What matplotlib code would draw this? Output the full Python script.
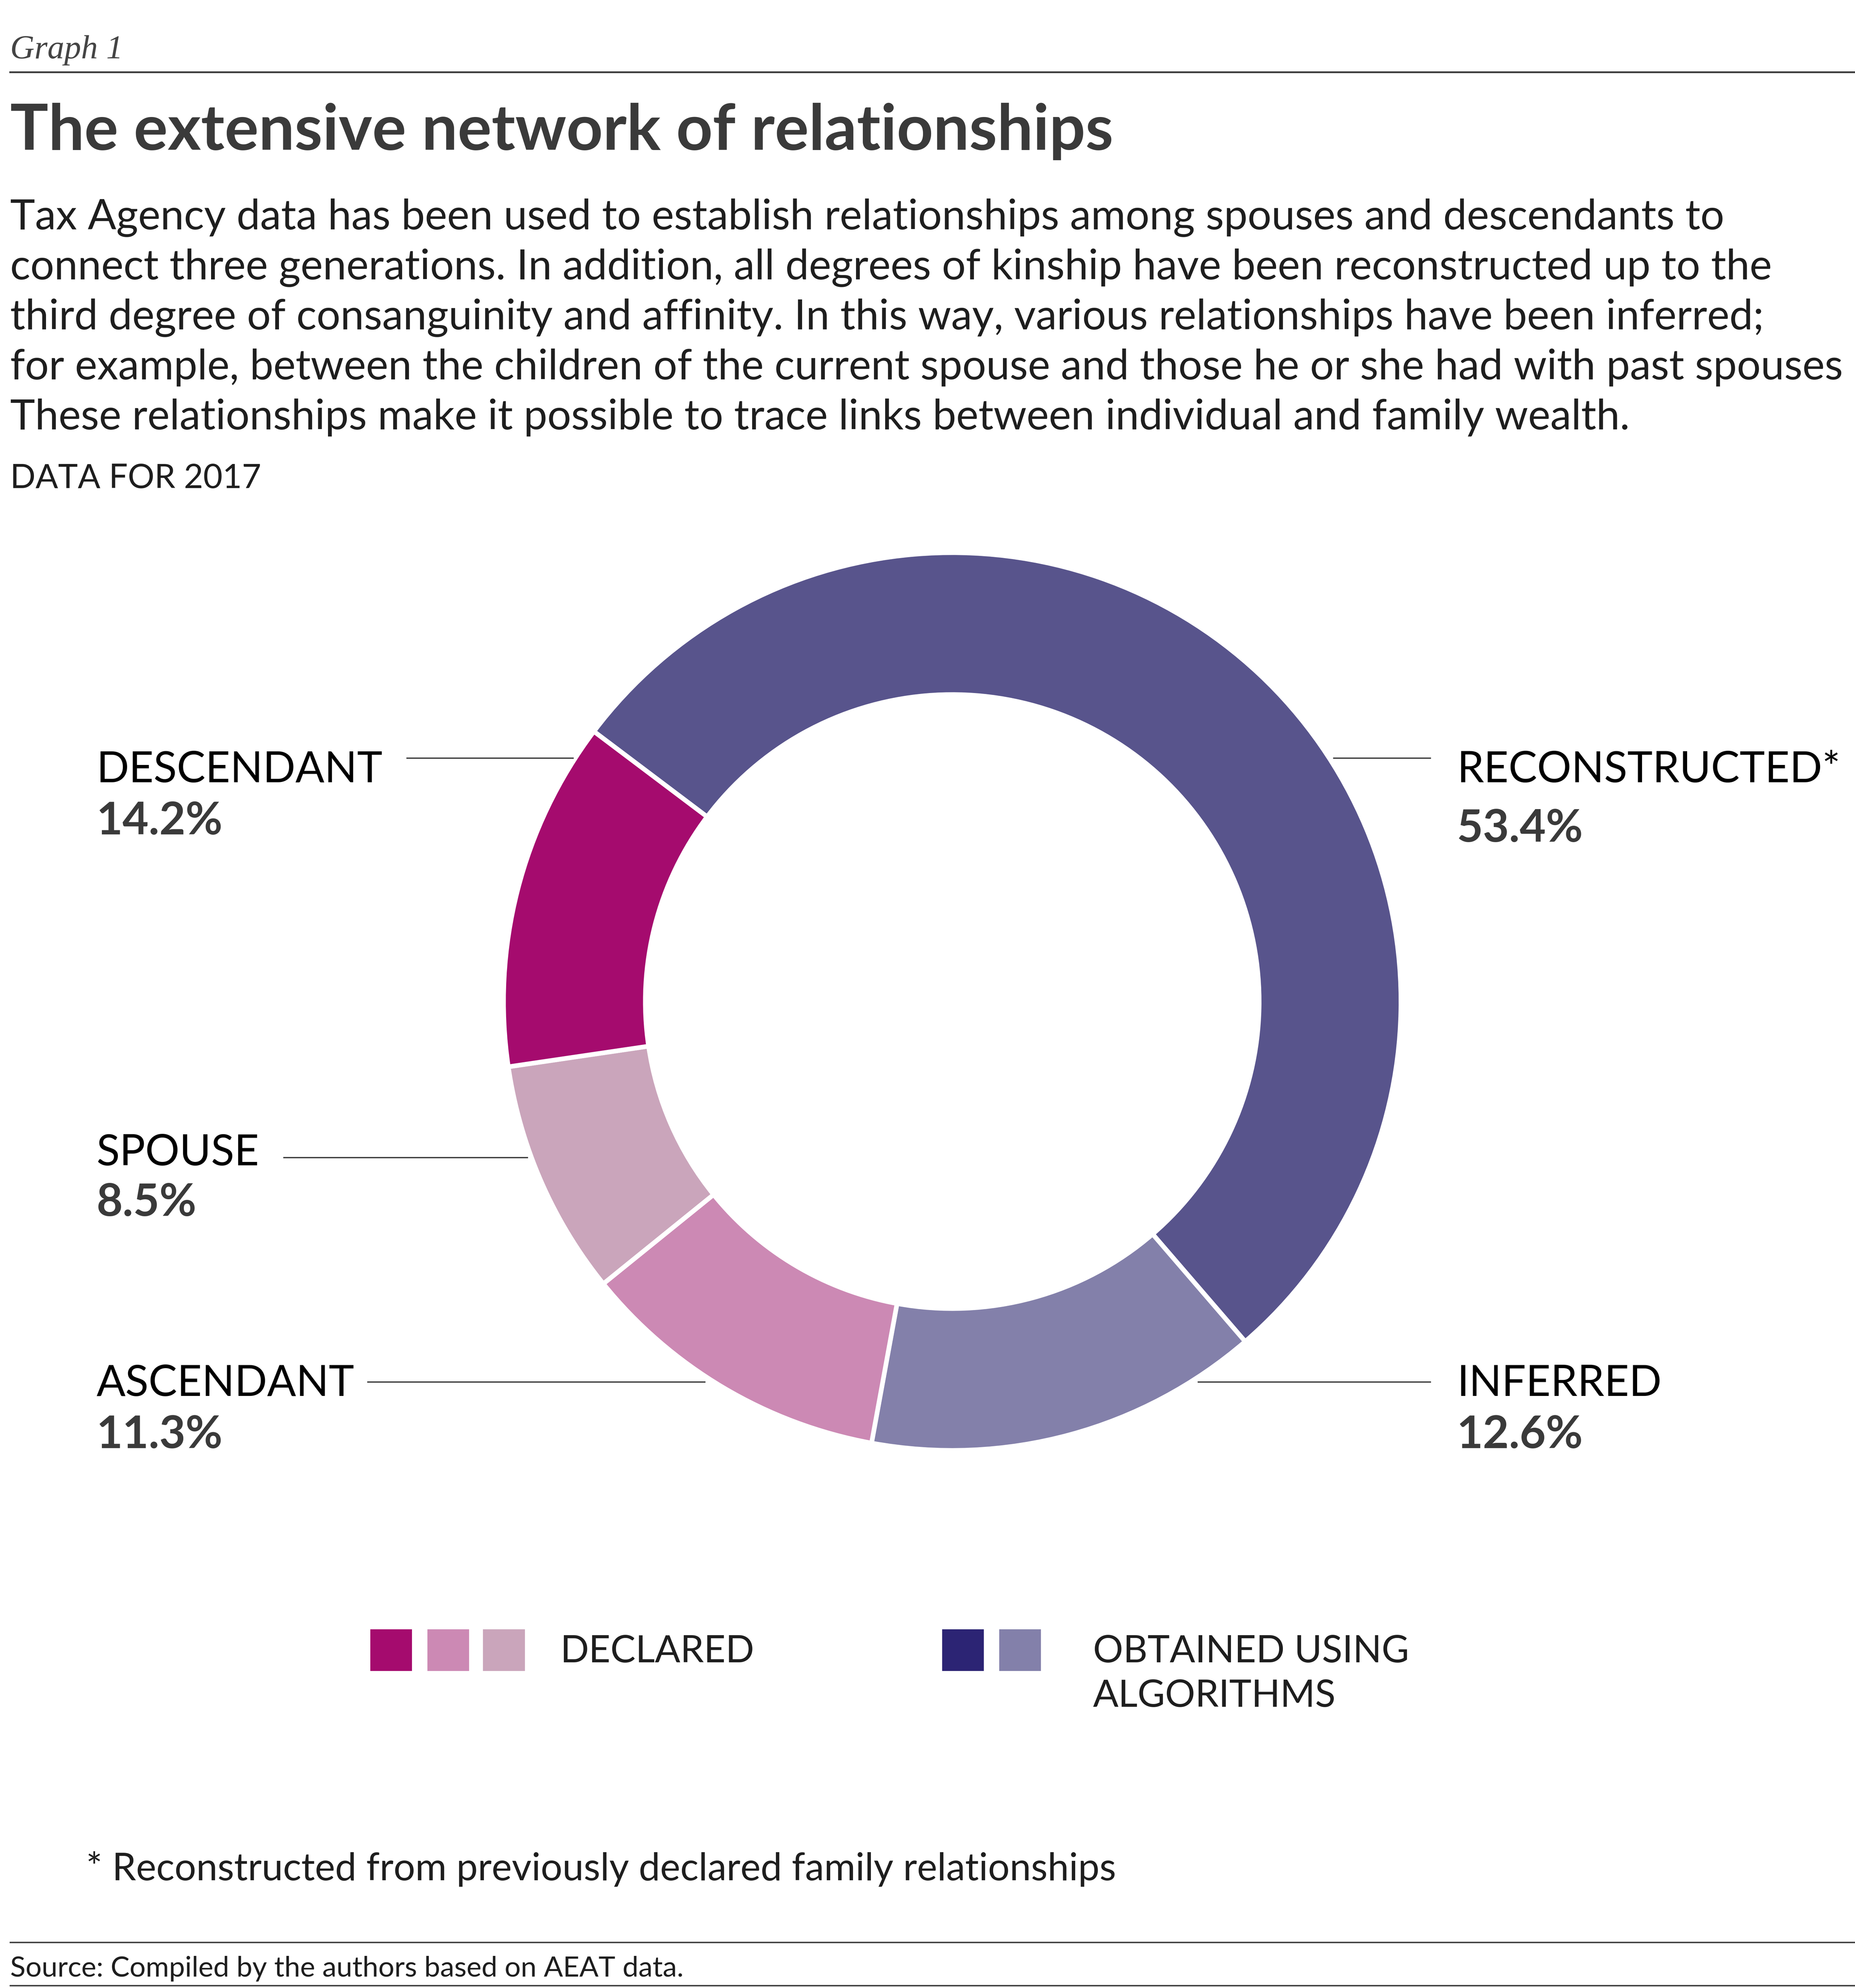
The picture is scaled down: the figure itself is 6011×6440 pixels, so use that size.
import matplotlib
matplotlib.use("Agg")
from matplotlib import pyplot as plt
from matplotlib.patches import Rectangle

# Data
# arc shares as drawn in the chart, clockwise from the top-left
slice_names = ["RECONSTRUCTED*", "INFERRED", "ASCENDANT", "SPOUSE", "DESCENDANT"]
slice_shares = [53.4, 14.2, 11.3, 8.5, 12.6]
slice_colors = ["#58548c", "#8380aa", "#cc89b4", "#caa5bb", "#a50b6e"]

# printed labels
label_names = ["DESCENDANT", "SPOUSE", "ASCENDANT", "RECONSTRUCTED*", "INFERRED"]
label_values = ["14.2%", "8.5%", "11.3%", "53.4%", "12.6%"]

legend_groups = [["DECLARED"], ["OBTAINED USING", "ALGORITHMS"]]
legend_colors = [["#a50b6e", "#cc89b4", "#caa5bb"], ["#2c2474", "#8380aa"]]

body_lines = [
    "Tax Agency data has been used to establish relationships among spouses and descendants to",
    "connect three generations. In addition, all degrees of kinship have been reconstructed up to the",
    "third degree of consanguinity and affinity. In this way, various relationships have been inferred;",
    "for example, between the children of the current spouse and those he or she had with past spouses",
    "These relationships make it possible to trace links between individual and family wealth.",
]

W, H = 1463.0, 1568.0
DPI = 300
plt.rcParams['font.family'] = ['Lato', 'DejaVu Sans']
TXT = "#3a3a3a"
DARK = "#1e1e1e"

fig = plt.figure(figsize=(6679 / DPI, 7156 / DPI), dpi=DPI, facecolor="white")


def fx(x):
    return x / W


def fy(y):
    return 1 - y / H


def text(x, y, s, size, **kw):
    # y is the baseline, in reference pixels
    kw.setdefault("color", TXT)
    kw.setdefault("va", "baseline")
    fig.text(fx(x), fy(y), s, fontsize=size, **kw)


def hline(x0, x1, y, lw=1.2, color="#3a3a3a"):
    fig.add_artist(plt.Line2D([fx(x0), fx(x1)], [fy(y), fy(y)], lw=lw, color=color,
                              transform=fig.transFigure))


# header
text(8, 46, "Graph 1", 29, family="Liberation Serif", style="italic", color="#444444")
hline(8, 1463, 57, lw=1.5)
text(8, 118, "The extensive network of relationships", 55, weight="bold")
for i, line in enumerate(body_lines):
    text(8, 181 + i * 39.4, line, 36.4, color=DARK)
text(8, 385, "DATA FOR 2017", 28.8, color=DARK)

# donut
cx, cy, R = 751, 790, 354
ax = fig.add_axes([fx(cx - R), fy(cy + R), 2 * R / W, 2 * R / H])
ax.pie(slice_shares, colors=slice_colors, startangle=143, counterclock=False,
       radius=1, wedgeprops=dict(width=0.316, edgecolor="white", linewidth=4))
ax.set_xlim(-1, 1)
ax.set_ylim(-1, 1)
ax.axis("off")

# labels and leader lines
label_pos = [(76, 617, 658), (76, 919, 959), (76, 1101, 1142), (1149, 617, 664), (1149, 1101, 1142)]
leaders = [(321, 452, 598), (224, 416, 913), (290, 556, 1090), (1052, 1128, 598), (945, 1128, 1090)]
for name, val, (x, y1, y2) in zip(label_names, label_values, label_pos):
    text(x, y1, name, 37, color="black")
    text(x, y2, val, 39, weight="bold")
for x0, x1, y in leaders:
    hline(x0, x1, y, lw=1.1)

# legend
sq = 33
box_x = [[292, 337, 381], [743, 788]]
text_x = [442, 862]
for grp, cols, xs, tx in zip(legend_groups, legend_colors, box_x, text_x):
    for c, x in zip(cols, xs):
        fig.add_artist(Rectangle((fx(x), fy(1318)), sq / W, sq / H, facecolor=c,
                                 edgecolor="none", transform=fig.transFigure))
    for j, ln in enumerate(grp):
        text(tx, 1311 + j * 35, ln, 32.5, color=DARK)

# footnote and source
text(68, 1483, "* Reconstructed from previously declared family relationships", 33, color=DARK)
hline(8, 1463, 1532, lw=1.2)
text(8, 1559, "Source: Compiled by the authors based on AEAT data.", 24.5, color=DARK)
hline(8, 1463, 1566, lw=1.2)

# full size trips the viewer's pixel limit, so save a bit smaller
fig.savefig("out.png", dpi=270, facecolor="white")
